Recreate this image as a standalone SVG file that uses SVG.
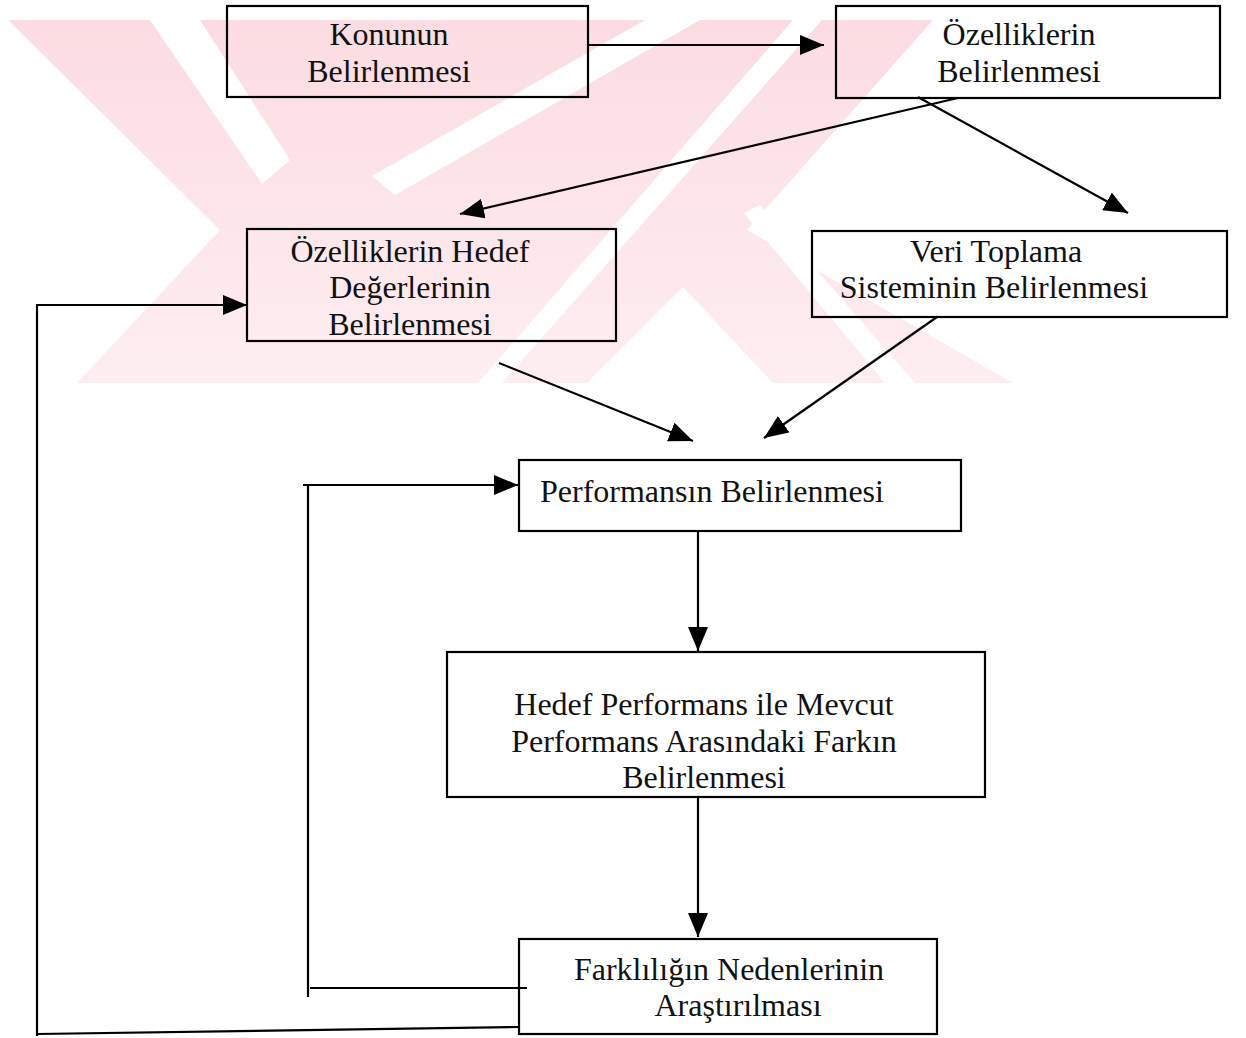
<svg xmlns="http://www.w3.org/2000/svg" width="1246" height="1038" viewBox="0 0 1246 1038">
<defs>
<style>
.box{fill:none;stroke:#000;stroke-width:2.2}
.lbl{font-family:"Liberation Serif","Times New Roman",serif;font-size:32px;fill:#111;text-anchor:middle}
.cn{stroke:#000;stroke-width:2.2;fill:none}
.wm{fill:url(#wmg)}
.wmw{fill:#fff}
</style>
<linearGradient id="wmg" x1="0" y1="0" x2="0" y2="1">
<stop offset="0" stop-color="#fbdce2"/>
<stop offset="1" stop-color="#feeef1"/>
</linearGradient>
<marker id="ah" viewBox="0 0 24 20" refX="24" refY="10" markerWidth="24" markerHeight="20" markerUnits="userSpaceOnUse" orient="auto">
<path d="M0,0 L24,10 L0,20 z" fill="#000"/>
</marker>
</defs>
<rect width="1246" height="1038" fill="#fff"/>
<g id="watermark">
<polygon class="wm" points="8,20 933,20 747,230 1013,383 77,383 220,230"/>
<polygon class="wmw" points="150,20 200,20 290,160 262,184"/>
<polygon class="wmw" points="645,20 700,20 395,195 372,176"/>
<polygon class="wmw" points="793,20 822,20 502,383 478,383"/>
<polygon class="wmw" points="744,213 760,205 915,383 885,383"/>
<polygon class="wmw" points="587,383 683,287 773,383"/>
</g>
<g id="connectors">
<line class="cn" x1="588" y1="45" x2="824" y2="45" marker-end="url(#ah)"/>
<line class="cn" x1="958" y1="98" x2="460" y2="214" marker-end="url(#ah)"/>
<line class="cn" x1="918" y1="97" x2="1128" y2="213" marker-end="url(#ah)"/>
<line class="cn" x1="499" y1="363" x2="693" y2="441" marker-end="url(#ah)"/>
<line class="cn" x1="937" y1="317" x2="764" y2="438" marker-end="url(#ah)"/>
<line class="cn" x1="698" y1="531" x2="698" y2="651" marker-end="url(#ah)"/>
<line class="cn" x1="698" y1="797" x2="698" y2="937" marker-end="url(#ah)"/>
<path class="cn" d="M527,988 L310,988"/>
<path class="cn" d="M308,997 V485"/>
<path class="cn" d="M303,485 H518" marker-end="url(#ah)"/>
<path class="cn" d="M519,1027 L37,1034"/>
<path class="cn" d="M37,1036 V305"/>
<path class="cn" d="M36,305 H247" marker-end="url(#ah)"/>
</g>
<g id="n1">
<rect class="box" x="227" y="6" width="361" height="91"/>
<text class="lbl" x="389" y="45">Konunun</text>
<text class="lbl" x="389" y="82">Belirlenmesi</text>
</g>
<g id="n2">
<rect class="box" x="836" y="6" width="384" height="92"/>
<text class="lbl" x="1019" y="45">Özelliklerin</text>
<text class="lbl" x="1019" y="82">Belirlenmesi</text>
</g>
<g id="n3">
<rect class="box" x="247" y="229" width="369" height="112"/>
<text class="lbl" x="410" y="262">Özelliklerin Hedef</text>
<text class="lbl" x="410" y="298">Değerlerinin</text>
<text class="lbl" x="410" y="335">Belirlenmesi</text>
</g>
<g id="n4">
<rect class="box" x="812" y="231" width="415" height="86"/>
<text class="lbl" x="996" y="262">Veri Toplama</text>
<text class="lbl" x="994" y="298">Sisteminin Belirlenmesi</text>
</g>
<g id="n5">
<rect class="box" x="519" y="460" width="442" height="71"/>
<text class="lbl" x="540" y="502" style="text-anchor:start">Performansın Belirlenmesi</text>
</g>
<g id="n6">
<rect class="box" x="447" y="652" width="538" height="145"/>
<text class="lbl" x="704" y="715">Hedef Performans ile Mevcut</text>
<text class="lbl" x="704" y="752">Performans Arasındaki Farkın</text>
<text class="lbl" x="704" y="788">Belirlenmesi</text>
</g>
<g id="n7">
<rect class="box" x="519" y="939" width="418" height="95"/>
<text class="lbl" x="729" y="980">Farklılığın Nedenlerinin</text>
<text class="lbl" x="738" y="1016">Araştırılması</text>
</g>
</svg>
